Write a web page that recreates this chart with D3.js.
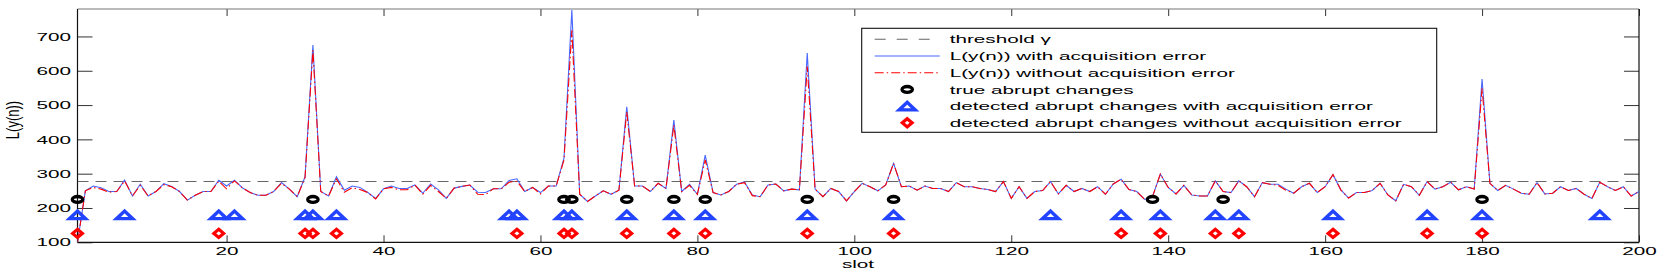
<!DOCTYPE html>
<html>
<head>
<meta charset="utf-8">
<script src="https://cdn.jsdelivr.net/npm/d3@7"></script>
<style>
  body { margin: 0; background: #fff; }
  text { font-family: "Liberation Sans", Arial, sans-serif; }
</style>
</head>
<body>
<div id="chart"></div>
<script>
// slot index 1..200
var slots = d3.range(1, 201);

// L(y(n)) with acquisition error (blue)
var withErr = [100,250,264,259,248,248,281,235,269,235,248,271,263,248,223,237,248,248,281,264,
  281,259,245,237,237,248,274,255,233,291,675,248,235,291,252,264,260,245,228,256,
  264,257,257,267,243,270,253,228,258,263,267,246,245,256,256,280,285,248,260,245,
  264,264,345,777,240,219,235,250,240,252,495,264,264,248,272,257,456,248,269,240,
  354,245,238,248,269,276,238,233,267,270,250,255,253,652,255,233,257,248,221,248,
  272,262,250,267,330,262,264,252,264,257,257,248,274,262,262,257,254,248,277,228,
  262,228,248,251,277,241,266,248,257,248,262,240,270,284,254,248,225,233,299,260,
  241,266,238,235,235,279,248,245,279,262,233,274,269,269,255,243,262,272,245,262,
  297,253,229,245,245,251,272,238,221,269,262,237,277,255,262,275,253,262,255,576,
  272,251,266,255,243,240,274,241,243,262,251,257,240,228,275,262,251,262,235,248];

// L(y(n)) without acquisition error (red)
var withoutErr = [100,250,260,255,246,248,279,235,266,235,248,268,262,248,223,237,248,248,278,256,
  279,259,245,237,237,248,272,255,233,289,660,248,235,285,246,259,254,245,226,256,
  260,253,253,267,240,266,248,228,258,263,267,240,239,256,256,275,278,248,260,241,
  264,264,340,718,240,219,235,250,240,252,480,264,264,248,272,257,442,248,266,240,
  340,245,238,248,269,274,236,233,267,270,250,255,253,612,255,233,257,248,221,248,
  272,262,250,267,330,262,264,252,264,257,257,248,274,262,262,257,254,248,277,228,
  262,228,248,251,277,241,266,248,257,248,262,240,270,284,254,248,225,233,299,260,
  241,266,238,235,235,279,248,245,279,262,233,274,269,266,252,243,262,272,245,262,
  297,253,229,245,245,251,272,238,221,269,262,237,277,255,262,275,253,262,255,549,
  272,251,266,255,243,240,274,241,243,262,251,257,240,228,275,262,251,262,235,248];

var threshold = 277;

// marker rows
var trueChanges = [1,31,63,64,71,77,81,94,105,138,147,180];
var detectedWith = [1,7,19,21,30,31,34,56,57,63,64,71,77,81,94,105,125,134,139,146,149,161,173,180,195];
var detectedWithout = [1,19,30,31,34,57,63,64,71,77,81,94,105,134,139,146,149,161,173,180];
var levelTrue = 225, levelWith = 180, levelWithout = 126;

var xTicks = [20,40,60,80,100,120,140,160,180,200];
var yTicks = [100,200,300,400,500,600,700];

var legendLabels = ["threshold \u03b3",
  "L(y(n)) with acquisition error",
  "L(y(n)) without acquisition error",
  "true abrupt changes",
  "detected abrupt changes with acquisition error",
  "detected abrupt changes without acquisition error"];

// the original figure was stretched sideways, so text gets the same stretch
var SX = 1.8;
var blueLine = "#4767ff", blueMark = "#2244ff", red = "#ff0000";

var W = 1661, H = 273;
var margin = {top: 9, right: 22, bottom: 30.7, left: 77.5};
var width = W - margin.left - margin.right,
    height = H - margin.top - margin.bottom;

var svg = d3.select("#chart").append("svg")
  .attr("width", W).attr("height", H)
  .style("display", "block");

var g = svg.append("g")
  .attr("transform", "translate(" + margin.left + "," + margin.top + ")");

var x = d3.scaleLinear().domain([1, 200]).range([0, width]);
var y = d3.scaleLinear().domain([100, 780]).range([height, 0]);

g.append("clipPath").attr("id", "clip")
  .append("rect").attr("width", width).attr("height", height);

// axes (ticks point inward like matlab)
var xAxis = g.append("g").attr("transform", "translate(0," + height + ")")
  .call(d3.axisBottom(x).tickValues(xTicks).tickSizeInner(-7).tickSizeOuter(0).tickPadding(5));
var xTop = g.append("g")
  .call(d3.axisTop(x).tickValues(xTicks).tickSizeInner(-7).tickSizeOuter(0).tickFormat(""));
var yAxis = g.append("g")
  .call(d3.axisLeft(y).tickValues(yTicks).tickSizeInner(-15).tickSizeOuter(0).tickPadding(6.5));
var yRight = g.append("g").attr("transform", "translate(" + width + ",0)")
  .call(d3.axisRight(y).tickValues(yTicks).tickSizeInner(-15).tickSizeOuter(0).tickFormat(""));

g.selectAll(".domain").remove();
g.selectAll(".tick line").attr("stroke", "#333");
xAxis.selectAll("text").attr("font-size", 11.5).attr("fill", "#000")
  .attr("transform", "scale(" + SX + ",1)");
yAxis.selectAll("text").attr("font-size", 11.5).attr("fill", "#000")
  .attr("x", -6.5 / SX)
  .attr("transform", "scale(" + SX + ",1)");

// box
g.append("line").attr("x1", 0).attr("x2", width).attr("y1", 0).attr("y2", 0)
  .attr("stroke", "#777").attr("stroke-width", 1.2);
g.append("line").attr("x1", 0).attr("x2", width).attr("y1", height).attr("y2", height)
  .attr("stroke", "#111").attr("stroke-width", 1.2);
g.append("line").attr("x1", 0).attr("x2", 0).attr("y1", 0).attr("y2", height)
  .attr("stroke", "#111").attr("stroke-width", 1.2);
g.append("line").attr("x1", width).attr("x2", width).attr("y1", 0).attr("y2", height)
  .attr("stroke", "#111").attr("stroke-width", 1.2);

var plot = g.append("g").attr("clip-path", "url(#clip)");

// threshold
plot.append("line")
  .attr("x1", x(1)).attr("x2", x(200))
  .attr("y1", y(threshold)).attr("y2", y(threshold))
  .attr("stroke", "#666").attr("stroke-width", 1.1)
  .attr("stroke-dasharray", "11,7");

var line = function(vals) {
  return d3.line()
    .x(function(d, i) { return x(slots[i]); })
    .y(function(d) { return y(d); })(vals);
};

plot.append("path").attr("d", line(withErr))
  .attr("fill", "none").attr("stroke", blueLine).attr("stroke-width", 1.1);
plot.append("path").attr("d", line(withoutErr))
  .attr("fill", "none").attr("stroke", red).attr("stroke-width", 1.1)
  .attr("stroke-dasharray", "9,3,1.5,3");

// marker shapes
var triPath = "M-8,3.8L8,3.8L0,-3.8Z";
var diaPath = "M0,-4.1L4.9,0L0,4.1L-4.9,0Z";

function drawCircle(sel) {
  sel.append("ellipse").attr("rx", 5.2).attr("ry", 2.9)
    .attr("fill", "none").attr("stroke", "#000").attr("stroke-width", 3.3);
}
function drawTri(sel) {
  sel.append("path").attr("d", triPath)
    .attr("fill", "none").attr("stroke", blueMark).attr("stroke-width", 3.4)
    .attr("stroke-linejoin", "miter");
}
function drawDia(sel) {
  sel.append("path").attr("d", diaPath)
    .attr("fill", "none").attr("stroke", red).attr("stroke-width", 3.2)
    .attr("stroke-linejoin", "miter");
}

g.selectAll(".mTrue").data(trueChanges).enter().append("g")
  .attr("transform", function(d) { return "translate(" + x(d) + "," + y(levelTrue) + ")"; })
  .call(drawCircle);
g.selectAll(".mWith").data(detectedWith).enter().append("g")
  .attr("transform", function(d) { return "translate(" + x(d) + "," + y(levelWith) + ")"; })
  .call(drawTri);
g.selectAll(".mWithout").data(detectedWithout).enter().append("g")
  .attr("transform", function(d) { return "translate(" + x(d) + "," + y(levelWithout) + ")"; })
  .call(drawDia);

// axis titles
svg.append("text")
  .attr("transform", "translate(" + 858 + "," + 268 + ") scale(" + SX + ",1)")
  .attr("text-anchor", "middle").attr("font-size", 11.5).attr("fill", "#000")
  .text("slot");
svg.append("text")
  .attr("transform", "translate(" + 19 + "," + 120 + ") rotate(-90) scale(1,1.35)")
  .attr("text-anchor", "middle").attr("font-size", 13).attr("fill", "#000")
  .text("L(y(n))");

// legend
var lg = svg.append("g").attr("transform", "translate(861.7,28.3)");
lg.append("rect").attr("width", 575).attr("height", 104)
  .attr("fill", "#fff").attr("stroke", "#111").attr("stroke-width", 1.1);

var rowY = function(i) { return 11 + i * 16.7; };
var sx0 = 13, sx1 = 78, sMid = 45.5, tx = 88;

lg.append("line").attr("x1", sx0).attr("x2", sx1).attr("y1", rowY(0)).attr("y2", rowY(0))
  .attr("stroke", "#666").attr("stroke-width", 1.1).attr("stroke-dasharray", "11,11");
lg.append("line").attr("x1", sx0).attr("x2", sx1).attr("y1", rowY(1)).attr("y2", rowY(1))
  .attr("stroke", blueLine).attr("stroke-width", 1.1);
lg.append("line").attr("x1", sx0).attr("x2", sx1).attr("y1", rowY(2)).attr("y2", rowY(2))
  .attr("stroke", red).attr("stroke-width", 1.1).attr("stroke-dasharray", "9,3,1.5,3");
lg.append("g").attr("transform", "translate(" + sMid + "," + rowY(3) + ")").call(drawCircle);
lg.append("g").attr("transform", "translate(" + sMid + "," + rowY(4) + ")").call(drawTri);
lg.append("g").attr("transform", "translate(" + sMid + "," + rowY(5) + ")").call(drawDia);

lg.selectAll(".lt").data(legendLabels).enter().append("text")
  .attr("transform", function(d, i) { return "translate(" + tx + "," + rowY(i) + ") scale(" + SX + ",1)"; })
  .attr("dy", "0.36em").attr("font-size", 11.5).attr("fill", "#000")
  .text(function(d) { return d; });
</script>
</body>
</html>
